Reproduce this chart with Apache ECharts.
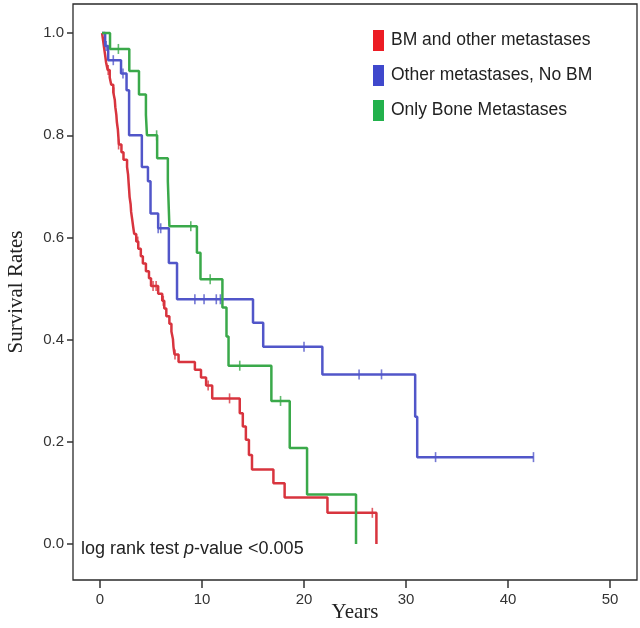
<!DOCTYPE html>
<html>
<head>
<meta charset="utf-8">
<script src="https://cdn.jsdelivr.net/npm/echarts@6/dist/echarts.min.js"></script>
<style>html,body{margin:0;padding:0;background:#fff}#c{width:640px;height:628px}</style>
</head>
<body>
<div id="c"></div>
<script>
// ---- data (years, survival) ----
const seriesNames = ['BM and other metastases', 'Other metastases, No BM', 'Only Bone Metastases'];
const xTicks = [0, 10, 20, 30, 40, 50];
const yTicks = [0, 0.2, 0.4, 0.6, 0.8, 1.0];

const redSteps = [
  [0.2,1.0],[0.3,0.986],[0.4,0.971],[0.5,0.957],[0.6,0.942],[0.75,0.928],[0.95,0.913],[1.1,0.899],
  [1.3,0.884],[1.45,0.869],[1.5,0.855],[1.6,0.840],[1.65,0.826],[1.75,0.811],[1.8,0.797],[1.85,0.782],
  [2.1,0.767],[2.3,0.752],[2.65,0.738],[2.75,0.723],[2.8,0.708],[2.85,0.694],[2.9,0.679],[3.0,0.665],
  [3.05,0.650],[3.15,0.636],[3.25,0.621],[3.35,0.607],[3.55,0.592],[3.75,0.578],[4.0,0.563],[4.2,0.549],
  [4.5,0.534],[4.8,0.520],[5.0,0.505],[5.7,0.490],[6.1,0.476],[6.3,0.461],[6.5,0.446],[6.8,0.431],
  [7.0,0.416],[7.15,0.401],[7.2,0.386],[7.3,0.371],[7.7,0.356],[9.3,0.341],[9.9,0.326],[10.4,0.310],
  [11.0,0.285],[13.7,0.256],[14.0,0.230],[14.3,0.204],[14.6,0.174],[14.9,0.146],[17.0,0.119],
  [18.1,0.091],[22.3,0.061],[27.1,0.0]
];
const redCensored = [[0.8,0.928],[1.35,0.884],[1.82,0.782],[3.7,0.592],[5.2,0.505],[5.5,0.505],
  [6.2,0.476],[7.35,0.371],[10.6,0.310],[12.7,0.285],[26.7,0.061]];

const blueSteps = [
  [0.2,1.0],[0.5,0.975],[0.8,0.947],[2.06,0.921],[2.6,0.888],[2.85,0.80],[4.1,0.738],[4.7,0.71],
  [4.95,0.647],[5.7,0.618],[6.75,0.55],[7.55,0.479],[15.0,0.433],[16.0,0.386],[21.8,0.332],
  [30.9,0.249],[31.1,0.17],[42.5,0.17]
];
const blueCensored = [[0.6,0.975],[1.3,0.947],[2.25,0.921],[5.7,0.618],[5.95,0.618],[9.3,0.479],
  [10.2,0.479],[11.4,0.479],[11.8,0.479],[20.0,0.386],[25.4,0.332],[27.6,0.332],[32.9,0.17],[42.5,0.17]];

const greenSteps = [
  [0.2,1.0],[0.98,0.969],[2.87,0.926],[3.82,0.88],[4.5,0.84],[4.6,0.80],[5.6,0.755],[6.65,0.71],
  [6.8,0.622],[9.5,0.57],[9.85,0.518],[12.0,0.463],[12.4,0.406],[12.6,0.349],[16.8,0.28],
  [18.6,0.188],[20.3,0.097],[25.1,0.0]
];
const greenCensored = [[1.8,0.969],[5.55,0.80],[8.9,0.622],[10.8,0.518],[13.7,0.349],[17.7,0.28]];

// ---- styles ----
const lineColors = ['#d8343e', '#5156c9', '#3aa94a'];
const legendColors = ['#ec1c24', '#3f48cc', '#22b14c'];

const chart = echarts.init(document.getElementById('c'), null, {renderer: 'canvas'});
const stepsList = [redSteps, blueSteps, greenSteps];
const censList = [redCensored, blueCensored, greenCensored];
const series = [];
for (let i = 0; i < 3; i++) {
  series.push({
    name: seriesNames[i], type: 'line', step: 'end', data: stepsList[i],
    showSymbol: false, symbol: 'none', clip: true,
    lineStyle: {color: lineColors[i], width: 2.5}, itemStyle: {color: legendColors[i]},
    emphasis: {disabled: true}, z: 3
  });
  series.push({
    name: seriesNames[i], type: 'scatter', data: censList[i],
    symbol: 'rect', symbolSize: [1.6, 10],
    itemStyle: {color: lineColors[i]}, emphasis: {disabled: true}, z: 4
  });
}

const sans = 'Liberation Sans, Arial, sans-serif';
const serif = 'Liberation Serif, Times New Roman, serif';

chart.setOption({
  animation: false,
  backgroundColor: '#fff',
  grid: {left: 73, right: 3, top: 4, bottom: 48, outerBoundsMode: 'none', containLabel: false,
    show: true, borderColor: '#2a2a2a', borderWidth: 1.3, backgroundColor: 'transparent'},
  title: {
    text: '{a|log rank test }{i|p}{a|-value <0.005}',
    left: 81, top: 540, padding: 0,
    textStyle: {fontWeight: 'normal', rich: {
      a: {fontFamily: sans, fontSize: 18, color: '#222', fontWeight: 'normal'},
      i: {fontFamily: sans, fontSize: 18, color: '#222', fontStyle: 'italic', fontWeight: 'normal'}
    }}
  },
  legend: {
    orient: 'vertical', left: 368, top: 25, itemWidth: 11, itemHeight: 21, itemGap: 14,
    icon: 'rect', selectedMode: false,
    textStyle: {fontFamily: sans, fontSize: 17.5, color: '#222', padding: [0,0,0,2]},
    data: seriesNames.map((n, i) => ({name: n, itemStyle: {color: legendColors[i]}}))
  },
  xAxis: {
    type: 'value', min: -2.65, max: 52.65,
    name: 'Years', nameLocation: 'middle', nameGap: 22, nameMoveOverlap: false,
    nameTextStyle: {fontFamily: serif, fontSize: 21, color: '#222'},
    axisLine: {show: false, onZero: false},
    axisTick: {show: true, inside: false, length: 8, customValues: xTicks, lineStyle: {color: '#333', width: 1.5}},
    axisLabel: {customValues: xTicks, margin: 12, fontFamily: sans, fontSize: 15, color: '#333'},
    splitLine: {show: false}
  },
  yAxis: {
    type: 'value', min: -0.0705, max: 1.057,
    name: 'Survival Rates', nameLocation: 'middle', nameGap: 46, nameRotate: 90, nameMoveOverlap: false,
    nameTextStyle: {fontFamily: serif, fontSize: 21, color: '#222'},
    axisLine: {show: false, onZero: false},
    axisTick: {show: true, inside: false, length: 6, customValues: yTicks, lineStyle: {color: '#333', width: 1.5}},
    axisLabel: {customValues: yTicks, margin: 9, formatter: v => v.toFixed(1), fontFamily: sans, fontSize: 15, color: '#333'},
    splitLine: {show: false}
  },
  series: series
});
</script>
</body>
</html>
